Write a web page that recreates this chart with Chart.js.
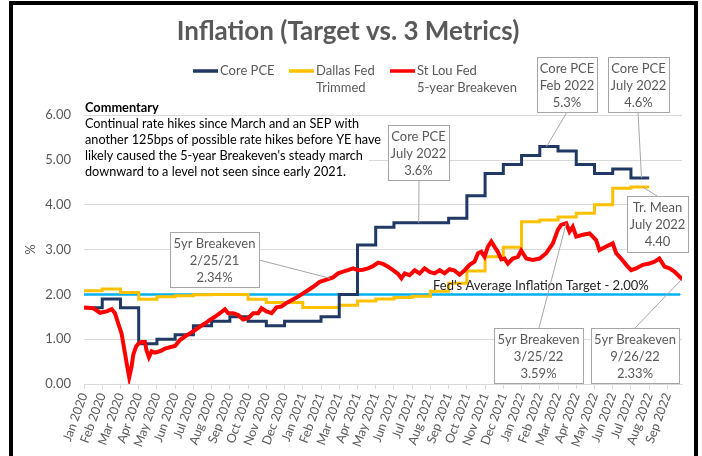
<!DOCTYPE html>
<html>
<head>
<meta charset="utf-8">
<title>Inflation (Target vs. 3 Metrics)</title>
<script src="https://cdn.jsdelivr.net/npm/chart.js@4.4.0/dist/chart.umd.min.js"></script>
<style>
  html, body { margin: 0; padding: 0; background: #fff; }
  #wrap { position: relative; width: 702px; height: 456px; overflow: hidden; }
  #frame { position: absolute; left: 9px; top: 1px; width: 689px; height: 480px;
           box-sizing: border-box; border: 4px solid #000; pointer-events: none; }
</style>
</head>
<body>
<div id="wrap">
  <canvas id="myChart" width="702" height="456"></canvas>
  <div id="frame"></div>
</div>
<script>
// month labels for the x axis (tick i = month i)
const months = [
  'Jan 2020','Feb 2020','Mar 2020','Apr 2020','May 2020','Jun 2020','Jul 2020','Aug 2020',
  'Sep 2020','Oct 2020','Nov 2020','Dec 2020','Jan 2021','Feb 2021','Mar 2021','Apr 2021',
  'May 2021','Jun 2021','Jul 2021','Aug 2021','Sep 2021','Oct 2021','Nov 2021','Dec 2021',
  'Jan 2022','Feb 2022','Mar 2022','Apr 2022','May 2022','Jun 2022','Jul 2022','Aug 2022','Sep 2022'
];

// monthly values, Jan 2020 - Jul 2022
const corePce = [
  1.7, 1.9, 1.7, 0.9, 1.0, 1.1, 1.3, 1.4, 1.5, 1.4, 1.3, 1.4,
  1.4, 1.5, 2.0, 3.1, 3.5, 3.6, 3.6, 3.6, 3.7, 4.2, 4.7, 4.9,
  5.1, 5.3, 5.2, 4.9, 4.7, 4.8, 4.6
];
const dallasTrimmed = [
  2.08, 2.12, 2.04, 1.89, 1.95, 1.97, 1.99, 2.00, 2.00, 1.89, 1.82, 1.82,
  1.71, 1.71, 1.76, 1.85, 1.90, 1.93, 1.96, 2.07, 2.25, 2.52, 2.84, 3.05,
  3.62, 3.66, 3.73, 3.81, 4.00, 4.37, 4.40
];

// St Lou Fed 5-year breakeven, position in months from Jan 2020 and value
const beMonth = [
  0.00, 0.51, 0.88, 1.24, 1.52, 1.70, 1.88, 2.06, 2.25, 2.37, 2.48, 2.61, 2.70, 2.85, 2.98,
  3.16, 3.34, 3.43, 3.56, 3.71, 3.89, 4.16, 4.44, 4.71, 4.99, 5.26, 5.53, 5.81, 6.08, 6.36,
  6.63, 6.90, 7.18, 7.45, 7.73, 7.91, 8.18, 8.46, 8.73, 9.00, 9.28, 9.55, 9.74, 10.01, 10.29,
  10.56, 10.83, 11.11, 11.38, 11.66, 11.93, 12.20, 12.57, 12.93, 13.30, 13.66, 13.94, 14.21,
  14.48, 14.76, 15.03, 15.30, 15.58, 15.85, 16.13, 16.40, 16.68, 16.95, 17.22, 17.41, 17.59,
  17.86, 18.14, 18.41, 18.68, 18.96, 19.23, 19.51, 19.78, 20.05, 20.33, 20.60, 20.88, 21.15,
  21.42, 21.61, 21.79, 21.97, 22.15, 22.34, 22.52, 22.70, 22.89, 23.07, 23.25, 23.52, 23.80,
  23.98, 24.26, 24.62, 24.99, 25.35, 25.72, 25.99, 26.17, 26.45, 26.63, 26.81, 27.00, 27.36,
  27.73, 28.09, 28.27, 28.64, 29.00, 29.19, 29.46, 29.74, 30.01, 30.28, 30.65, 31.01, 31.29,
  31.56, 31.84, 32.11, 32.38, 32.66, 32.83
];
const beValue = [
  1.71, 1.69, 1.59, 1.62, 1.67, 1.58, 1.35, 1.13, 0.68, 0.39, 0.15, 0.39, 0.65, 0.83, 0.90,
  0.94, 0.94, 0.75, 0.60, 0.73, 0.70, 0.73, 0.79, 0.82, 0.85, 0.98, 1.06, 1.13, 1.20, 1.28,
  1.35, 1.43, 1.50, 1.58, 1.67, 1.58, 1.58, 1.54, 1.44, 1.47, 1.58, 1.58, 1.69, 1.62, 1.58,
  1.71, 1.73, 1.81, 1.87, 1.93, 2.00, 2.07, 2.17, 2.28, 2.33, 2.38, 2.47, 2.51,
  2.54, 2.58, 2.54, 2.55, 2.58, 2.63, 2.71, 2.68, 2.62, 2.54, 2.46, 2.36, 2.47,
  2.43, 2.54, 2.47, 2.58, 2.50, 2.47, 2.54, 2.47, 2.56, 2.53, 2.44, 2.54, 2.66,
  2.73, 2.92, 2.95, 2.84, 3.06, 3.18, 3.06, 2.95, 2.78, 2.80, 2.69, 2.80, 2.84,
  2.98, 2.80, 2.77, 2.80, 2.92, 3.14, 3.44, 3.55, 3.59, 3.40, 3.51, 3.29, 3.33,
  3.36, 3.21, 2.99, 3.07, 3.14, 2.92, 2.80, 2.66, 2.54, 2.58, 2.66, 2.69, 2.73,
  2.80, 2.62, 2.58, 2.51, 2.40, 2.33
];

const fedTarget = 2.0;
const targetSpan = [0, 32.7];

const legendText = [['Core PCE'], ['Dallas Fed', 'Trimmed'], ['St Lou Fed', '5-year Breakeven']];
const commentTitle = 'Commentary';
const commentLines = [
  'Continual rate hikes since March and an SEP with',
  'another 125bps of possible rate hikes before YE have',
  "likely caused the 5-year Breakeven's steady march",
  'downward to a level not seen since early 2021.'
];

// callout boxes: box in px, leader from box point to a data point [month, value]
const callouts = [
  {box: [170, 232, 89, 55], from: [259, 260], at: [13.5, 2.36], text: ['5yr Breakeven', '2/25/21', '2.34%']},
  {box: [388, 125, 61, 55], from: [419, 180], at: [18.36, 3.6], text: ['Core PCE', 'July 2022', '3.6%']},
  {box: [537, 57, 60, 55], from: [567, 112], at: [25.37, 5.3], text: ['Core PCE', 'Feb 2022', '5.3%']},
  {box: [608, 57, 61, 55], from: [638, 112], at: [30.58, 4.6], text: ['Core PCE', 'July 2022', '4.6%']},
  {box: [627, 196, 61, 56], from: [657, 196], at: [30.63, 4.4], text: ['Tr. Mean', 'July 2022', '4.40']},
  {box: [494, 328, 89, 55], from: [539, 328], at: [26.45, 3.59], text: ['5yr Breakeven', '3/25/22', '3.59%']},
  {box: [591, 328, 88, 55], from: [635, 328], at: [32.77, 2.33], text: ['5yr Breakeven', '9/26/22', '2.33%']}
];

// step series: value i holds from month i to month i+1
function steps(vals) {
  var pts = vals.map((v, i) => ({x: i, y: v}));
  pts.push({x: vals.length, y: vals[vals.length - 1]});
  return pts;
}

const notes = {
  id: 'notes',
  beforeDatasetsDraw(chart) {
    const ctx = chart.ctx;
    ctx.save();
    ctx.fillStyle = '#fff';
    ctx.fillRect(84, 117, 285, 62);
    ctx.fillStyle = '#000';
    ctx.textBaseline = 'middle';
    ctx.font = 'bold 12.8px Lato';
    ctx.fillText(commentTitle, 85, 108);
    ctx.font = '12.7px Lato';
    commentLines.forEach((t, i) => ctx.fillText(t, 85, 124 + i * 16));
    ctx.restore();
  },
  afterDatasetsDraw(chart) {
    const ctx = chart.ctx, xs = chart.scales.x, ys = chart.scales.y;
    ctx.save();

    // target label
    ctx.fillStyle = '#262626';
    ctx.font = '13px Lato';
    ctx.textBaseline = 'middle';
    ctx.fillText("Fed's Average Inflation Target - 2.00%", 433, 286);

    // callouts
    ctx.lineWidth = 1;
    ctx.strokeStyle = '#a6a6a6';
    callouts.forEach(c => {
      ctx.beginPath();
      ctx.moveTo(c.from[0], c.from[1]);
      ctx.lineTo(xs.getPixelForValue(c.at[0]), ys.getPixelForValue(c.at[1]));
      ctx.stroke();
      const [bx, by, bw, bh] = c.box;
      ctx.fillStyle = '#fff';
      ctx.fillRect(bx, by, bw, bh);
      ctx.strokeRect(bx + 0.5, by + 0.5, bw, bh);
      ctx.fillStyle = '#595959';
      ctx.textAlign = 'center';
      c.text.forEach((t, i) => ctx.fillText(t, bx + bw / 2, by + 11.5 + i * 17));
    });

    // legend
    const legendX = [193, 289, 390];
    ctx.textAlign = 'left';
    ctx.lineWidth = 3.5;
    chart.data.datasets.slice(0, 3).forEach((ds, i) => {
      ctx.strokeStyle = ds.borderColor;
      ctx.beginPath();
      ctx.moveTo(legendX[i], 71);
      ctx.lineTo(legendX[i] + 25, 71);
      ctx.stroke();
      ctx.fillStyle = '#595959';
      legendText[i].forEach((t, j) => ctx.fillText(t, legendX[i] + 27, 71 + j * 17));
    });
    ctx.restore();
  }
};

Chart.defaults.font.family = 'Lato';
Chart.defaults.color = '#595959';

const ctx = document.getElementById('myChart').getContext('2d');
const chart = new Chart(ctx, {
  type: 'line',
  data: {
    datasets: [
      {label: 'Core PCE', data: steps(corePce), borderColor: '#1f3864', borderWidth: 3,
       stepped: 'before', pointRadius: 0, order: 1},
      {label: 'Dallas Fed Trimmed', data: steps(dallasTrimmed), borderColor: '#ffc000', borderWidth: 3,
       stepped: 'before', pointRadius: 0, order: 2},
      {label: 'St Lou Fed 5-year Breakeven', data: beMonth.map((m, i) => ({x: m, y: beValue[i]})),
       borderColor: '#ff0000', borderWidth: 4, pointRadius: 0, tension: 0, order: 0},
      {label: "Fed's Average Inflation Target", data: targetSpan.map(m => ({x: m, y: fedTarget})),
       borderColor: '#00b0f0', borderWidth: 2.5, pointRadius: 0, order: 3}
    ]
  },
  options: {
    responsive: false,
    animation: false,
    devicePixelRatio: 1,
    layout: {padding: {left: 14, right: 20, top: 0, bottom: 0}},
    plugins: {
      legend: {display: false},
      tooltip: {enabled: false},
      title: {
        display: true,
        text: 'Inflation (Target vs. 3 Metrics)',
        color: '#595959',
        font: {size: 26, weight: 'bold'},
        padding: {top: 16, bottom: 68}
      }
    },
    scales: {
      x: {
        type: 'linear',
        min: 0,
        max: 32.8,
        afterBuildTicks: s => { s.ticks = months.map((m, i) => ({value: i})); },
        afterFit: s => { s.height = 72; },
        ticks: {
          autoSkip: false, minRotation: 70, maxRotation: 70, padding: 2,
          font: {size: 12.5},
          callback: v => months[v]
        },
        grid: {drawOnChartArea: false, tickLength: 5, color: '#d9d9d9'},
        border: {color: '#d9d9d9'}
      },
      y: {
        min: 0,
        max: 6,
        afterFit: s => { s.width = 70; },
        ticks: {stepSize: 1, padding: 13, font: {size: 13}, callback: v => v.toFixed(2)},
        grid: {color: '#d9d9d9', drawTicks: false},
        border: {display: false},
        title: {display: true, text: '%', font: {size: 13}, padding: {top: 9, bottom: 0}}
      }
    }
  },
  plugins: [notes]
});
</script>
</body>
</html>
